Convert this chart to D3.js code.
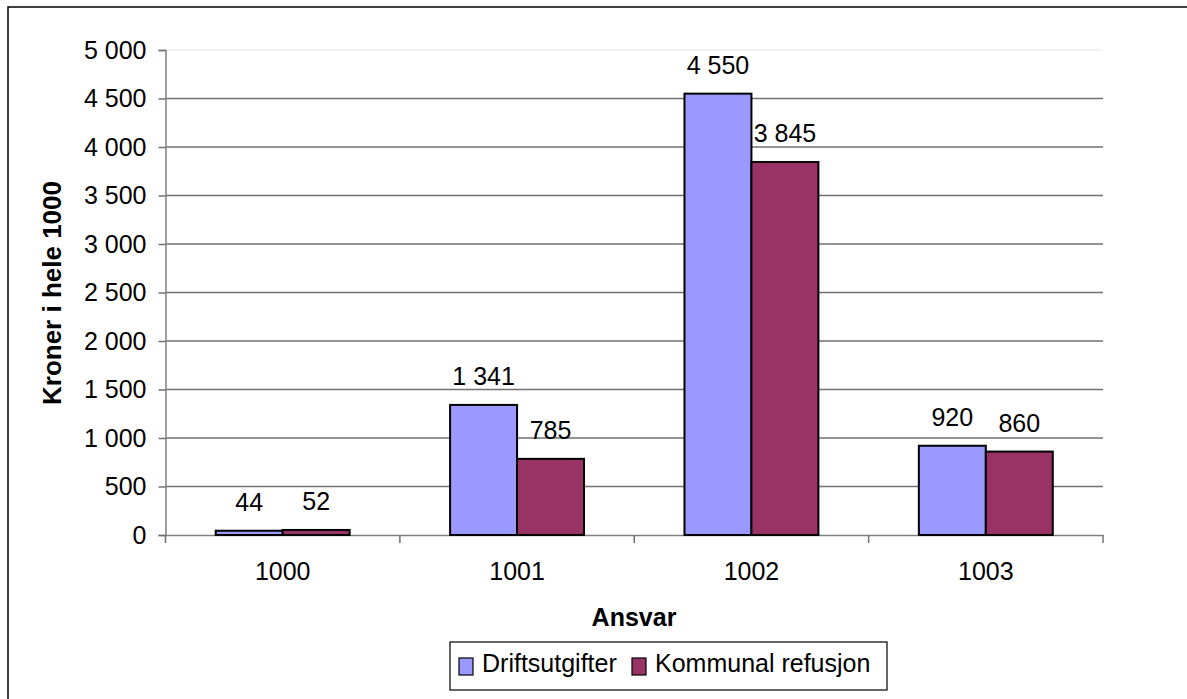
<!DOCTYPE html>
<html><head><meta charset="utf-8">
<script src="https://cdn.jsdelivr.net/npm/d3@7"></script>
<style>body{margin:0;background:#fff}svg{display:block}text{font-family:"Liberation Sans",Arial,sans-serif}</style>
</head><body>
<script>
const categories = ["1000","1001","1002","1003"];
const seriesNames = ["Driftsutgifter","Kommunal refusjon"];
const driftsutgifter = [44,1341,4550,920];
const kommunalRefusjon = [52,785,3845,860];
const yTicks = [0,500,1000,1500,2000,2500,3000,3500,4000,4500,5000];
const colors = ["#9999FF","#993366"];

const W=1187,H=699,FS=25;
const svg=d3.select("body").append("svg").attr("width",W).attr("height",H);
svg.append("rect").attr("x",8).attr("y",7).attr("width",1190).attr("height",700).attr("fill","#fff").attr("stroke","#000").attr("stroke-width",1.5);

const L=165.5,R=1103,T=50,B=535;
const x=d3.scaleBand().domain(categories).range([L,R]).paddingInner(0).paddingOuter(0);
const y=d3.scaleLinear().domain([0,5000]).range([B,T]);
const fmt=v=>d3.format(",")(v).replace(/,/g," ");

// gridlines
svg.append("g").selectAll("line").data(yTicks.filter(d=>d>0)).join("line")
 .attr("x1",L).attr("x2",R).attr("y1",d=>y(d)).attr("y2",d=>y(d))
 .attr("stroke",d=>d===5000?"#eeeeee":"#707070").attr("stroke-width",1.5);

// y axis
const ya=svg.append("g").attr("transform",`translate(${L},0)`)
 .call(d3.axisLeft(y).tickValues(yTicks).tickSize(7).tickPadding(12).tickFormat(fmt));
ya.select(".domain").attr("stroke","#808080").attr("stroke-width",1.5);
ya.selectAll(".tick line").attr("stroke","#707070").attr("stroke-width",1.5);
ya.selectAll("text").attr("font-size",FS).attr("fill","#000").attr("font-family","Liberation Sans, Arial, sans-serif");

// x axis
const xa=svg.append("g").attr("transform",`translate(0,${B})`)
 .call(d3.axisBottom(x).tickSize(0).tickPadding(27));
xa.select(".domain").attr("stroke","#808080").attr("stroke-width",1.5);
xa.selectAll("text").attr("font-size",FS).attr("fill","#000").attr("font-family","Liberation Sans, Arial, sans-serif");
// boundary ticks
const bounds=categories.map(c=>x(c)).concat([R]);
svg.append("g").selectAll("line").data(bounds).join("line")
 .attr("x1",d=>d).attr("x2",d=>d).attr("y1",B).attr("y2",B+8).attr("stroke","#707070").attr("stroke-width",1.5);

// bars (gap width 150%)
const bw=x.bandwidth();
const barW=bw/(2+1.5);
const inner=d3.scaleBand().domain([0,1]).range([0,barW*2]);
const data=categories.map((c,i)=>({c,vals:[driftsutgifter[i],kommunalRefusjon[i]]}));
const grp=svg.append("g").selectAll("g").data(data).join("g")
 .attr("transform",d=>`translate(${x(d.c)+(bw-2*barW)/2},0)`);
grp.selectAll("rect").data(d=>d.vals.map((v,k)=>({v,k}))).join("rect")
 .attr("x",d=>inner(d.k)).attr("width",inner.bandwidth())
 .attr("y",d=>y(d.v)).attr("height",d=>B-y(d.v))
 .attr("fill",d=>colors[d.k]).attr("stroke","#000").attr("stroke-width",2);
grp.selectAll("text").data(d=>d.vals.map((v,k)=>({v,k}))).join("text")
 .attr("x",d=>inner(d.k)+inner.bandwidth()/2).attr("y",d=>y(d.v)-20)
 .attr("text-anchor","middle").attr("font-size",FS).attr("fill","#000").text(d=>fmt(d.v));

// axis titles
svg.append("text").attr("x",634).attr("y",626).attr("text-anchor","middle").attr("font-size",FS).attr("font-weight","bold").text("Ansvar");
svg.append("text").attr("transform","translate(61,293) rotate(-90)").attr("text-anchor","middle").attr("font-size",26).attr("font-weight","bold").text("Kroner i hele 1000");

// legend
const lg=svg.append("g");
lg.append("rect").attr("x",450).attr("y",642).attr("width",437).attr("height",48).attr("fill","#fff").attr("stroke","#000").attr("stroke-width",1.2);
const items=[{n:seriesNames[0],x:459,c:colors[0]},{n:seriesNames[1],x:632,c:colors[1]}];
items.forEach(it=>{
 lg.append("rect").attr("x",it.x).attr("y",658).attr("width",14).attr("height",17).attr("fill",it.c).attr("stroke","#000").attr("stroke-width",1.2);
 lg.append("text").attr("x",it.x+23).attr("y",672).attr("font-size",FS).text(it.n);
});
</script>
</body></html>
